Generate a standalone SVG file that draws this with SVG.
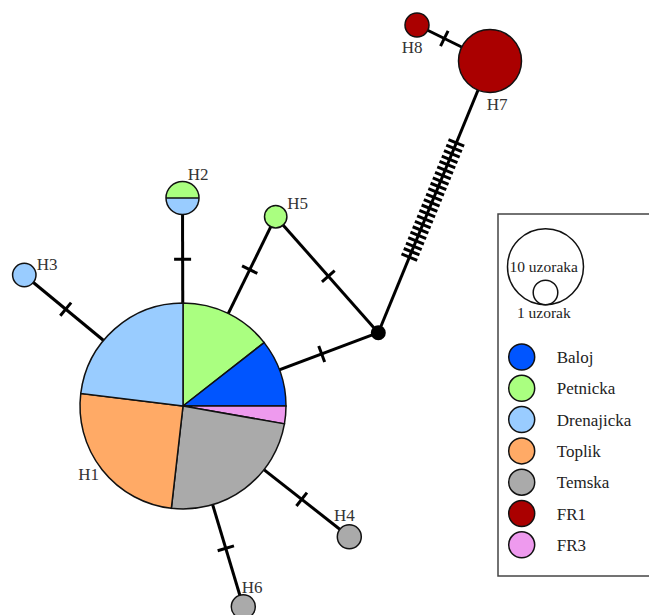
<svg xmlns="http://www.w3.org/2000/svg" xmlns:xlink="http://www.w3.org/1999/xlink" width="649" height="615" viewBox="0 0 649 615">
<style>
.edge{stroke:#000;stroke-width:3;fill:none}
.tick{stroke:#000;stroke-width:3}
.node{stroke:#111;stroke-width:1.5}
.lbl{font-family:"Liberation Serif","Times New Roman",serif;font-size:17px;fill:#333}
.leg{font-family:"Liberation Serif","Times New Roman",serif;font-size:17px;fill:#222}
.sz{font-family:"Liberation Serif","Times New Roman",serif;font-size:15.5px;fill:#222;text-anchor:middle}
.baloj{fill:#0055FF}.petnicka{fill:#AAFF80}.drenajicka{fill:#99CCFF}.toplik{fill:#FFAA66}.temska{fill:#AAAAAA}.fr1{fill:#AA0000}.fr3{fill:#EE9AEE}
</style>
<defs>
<line id="tk" class="tick" x1="0" y1="-8.5" x2="0" y2="8.5"/>
</defs>
<rect width="649" height="615" fill="#fff"/>
<g id="connectors">
<line class="edge" x1="183" y1="406" x2="182.5" y2="198"/>
<line class="edge" x1="183" y1="406" x2="24.3" y2="275"/>
<line class="edge" x1="183" y1="406" x2="349.3" y2="536.7"/>
<line class="edge" x1="183" y1="406" x2="243.3" y2="606.7"/>
<line class="edge" x1="183" y1="406" x2="275.7" y2="216.7"/>
<line class="edge" x1="275.7" y1="216.7" x2="378.3" y2="332.7"/>
<line class="edge" x1="378.3" y1="332.7" x2="183" y2="406"/>
<line class="edge" x1="378.3" y1="332.7" x2="490" y2="61"/>
<line class="edge" x1="490" y1="61" x2="417" y2="25"/>
<use xlink:href="#tk" href="#tk" transform="translate(182.6,259.3) rotate(-90.1)"/>
<use xlink:href="#tk" href="#tk" transform="translate(65.7,309.2) rotate(-140.5)"/>
<use xlink:href="#tk" href="#tk" transform="translate(301.7,499.3) rotate(38.2)"/>
<use xlink:href="#tk" href="#tk" transform="translate(225.8,548.3) rotate(73.3)"/>
<use xlink:href="#tk" href="#tk" transform="translate(249.7,269.7) rotate(-63.9)"/>
<use xlink:href="#tk" href="#tk" transform="translate(328.3,276.2) rotate(48.5)"/>
<use xlink:href="#tk" href="#tk" transform="translate(321.7,354) rotate(159.4)"/>
<use xlink:href="#tk" href="#tk" transform="translate(444.3,38.5) rotate(26.3)"/>
<g transform="translate(409.35,257.17) rotate(-67.65)">
<use xlink:href="#tk" href="#tk" x="0"/><use xlink:href="#tk" href="#tk" x="5.88"/><use xlink:href="#tk" href="#tk" x="11.76"/><use xlink:href="#tk" href="#tk" x="17.64"/><use xlink:href="#tk" href="#tk" x="23.52"/><use xlink:href="#tk" href="#tk" x="29.4"/><use xlink:href="#tk" href="#tk" x="35.28"/><use xlink:href="#tk" href="#tk" x="41.16"/><use xlink:href="#tk" href="#tk" x="47.04"/><use xlink:href="#tk" href="#tk" x="52.92"/><use xlink:href="#tk" href="#tk" x="58.8"/><use xlink:href="#tk" href="#tk" x="64.68"/><use xlink:href="#tk" href="#tk" x="70.56"/><use xlink:href="#tk" href="#tk" x="76.44"/><use xlink:href="#tk" href="#tk" x="82.32"/><use xlink:href="#tk" href="#tk" x="88.2"/><use xlink:href="#tk" href="#tk" x="94.08"/><use xlink:href="#tk" href="#tk" x="99.96"/><use xlink:href="#tk" href="#tk" x="105.84"/><use xlink:href="#tk" href="#tk" x="111.72"/><use xlink:href="#tk" href="#tk" x="117.6"/><use xlink:href="#tk" href="#tk" x="123.48"/>
</g>
</g>
<g id="H1">
<path class="node petnicka" d="M183,406 L183,303 A103,103 0 0 1 264.17,342.59 Z"/>
<path class="node baloj" d="M183,406 L264.17,342.59 A103,103 0 0 1 286,406 Z"/>
<path class="node fr3" d="M183,406 L286,406 A103,103 0 0 1 284.43,423.88 Z"/>
<path class="node temska" d="M183,406 L284.43,423.88 A103,103 0 0 1 171.34,508.34 Z"/>
<path class="node toplik" d="M183,406 L171.34,508.34 A103,103 0 0 1 80.77,393.45 Z"/>
<path class="node drenajicka" d="M183,406 L80.77,393.45 A103,103 0 0 1 183,303 Z"/>
<text class="lbl" x="78.3" y="480">H1</text>
</g>
<g id="H2">
<path class="petnicka" d="M166,198 A16.5,16.5 0 0 1 199,198 Z"/>
<path class="drenajicka" d="M166,198 A16.5,16.5 0 0 0 199,198 Z"/>
<line x1="166" y1="198" x2="199" y2="198" stroke="#111" stroke-width="1.5"/>
<circle cx="182.5" cy="198" r="16.5" fill="none" stroke="#111" stroke-width="1.5"/>
<text class="lbl" x="187.7" y="180">H2</text>
</g>
<g id="H3">
<circle class="node drenajicka" cx="24.3" cy="275" r="11.7"/>
<text class="lbl" x="36.7" y="270">H3</text>
</g>
<g id="H4">
<circle class="node temska" cx="349.3" cy="536.7" r="12"/>
<text class="lbl" x="334" y="521">H4</text>
</g>
<g id="H5">
<circle class="node petnicka" cx="275.7" cy="216.7" r="11.2"/>
<text class="lbl" x="287.3" y="209">H5</text>
</g>
<g id="H6">
<circle class="node temska" cx="243.3" cy="606.7" r="12"/>
<text class="lbl" x="241.7" y="593">H6</text>
</g>
<g id="H7">
<circle class="node fr1" cx="490" cy="61" r="31.5"/>
<text class="lbl" x="486.7" y="110">H7</text>
</g>
<g id="H8">
<circle class="node fr1" cx="417" cy="25" r="12"/>
<text class="lbl" x="401.7" y="53">H8</text>
</g>
<g id="median">
<circle cx="378.3" cy="332.7" r="7.5" fill="#000"/>
</g>
<g id="legend">
<rect x="498" y="214" width="200" height="362" fill="#fff" stroke="#444" stroke-width="1.5"/>
<circle cx="545.5" cy="266.7" r="38" fill="none" stroke="#111" stroke-width="1.5"/>
<circle cx="545.5" cy="292.5" r="12.3" fill="none" stroke="#111" stroke-width="1.5"/>
<text class="sz" x="543.7" y="271.7">10 uzoraka</text>
<text class="sz" x="543.8" y="317.7">1 uzorak</text>
<circle class="node baloj" cx="521.7" cy="357" r="13"/>
<text class="leg" x="556.7" y="363">Baloj</text>
<circle class="node petnicka" cx="521.7" cy="388.3" r="13"/>
<text class="leg" x="556.7" y="394.3">Petnicka</text>
<circle class="node drenajicka" cx="521.7" cy="419.6" r="13"/>
<text class="leg" x="556.7" y="425.6">Drenajicka</text>
<circle class="node toplik" cx="521.7" cy="450.9" r="13"/>
<text class="leg" x="556.7" y="456.9">Toplik</text>
<circle class="node temska" cx="521.7" cy="482.2" r="13"/>
<text class="leg" x="556.7" y="488.2">Temska</text>
<circle class="node fr1" cx="521.7" cy="513.5" r="13"/>
<text class="leg" x="556.7" y="519.5">FR1</text>
<circle class="node fr3" cx="521.7" cy="544.8" r="13"/>
<text class="leg" x="556.7" y="550.8">FR3</text>
</g>
</svg>
